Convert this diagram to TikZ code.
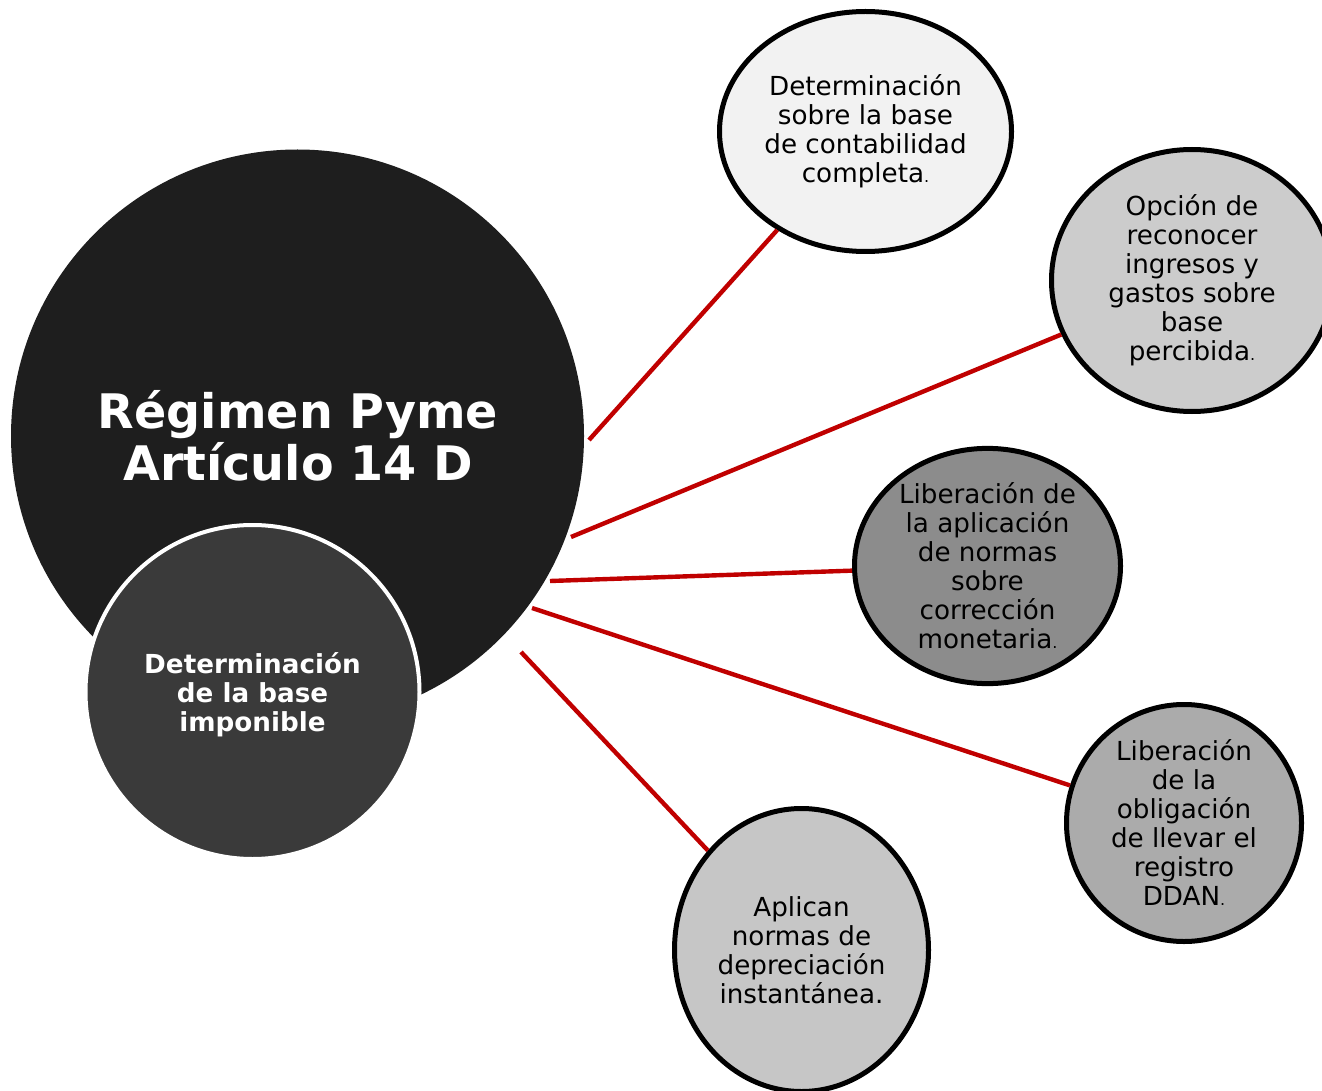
\documentclass[tikz,border=0pt]{standalone}
\usepackage{fontspec}
\setmainfont{DejaVu Sans}
\usetikzlibrary{shapes.geometric}
\definecolor{bigfill}{HTML}{1E1E1E}
\definecolor{smallfill}{HTML}{3A3A3A}
\definecolor{linkred}{HTML}{C00000}
\definecolor{fillA}{HTML}{F2F2F2}
\definecolor{fillB}{HTML}{CCCCCC}
\definecolor{fillC}{HTML}{8C8C8C}
\definecolor{fillD}{HTML}{ABABAB}
\definecolor{fillE}{HTML}{C6C6C6}
\newcommand{\smalldot}{{\fontsize{8}{8}\selectfont .}}
\begin{document}
\begin{tikzpicture}[x=0.5pt,y=-0.5pt,
  bubble/.style={ellipse, draw=black, line width=2.5pt, inner sep=0pt, align=center,
     text=black, font=\fontsize{13.1}{14.5}\selectfont},
  link/.style={draw=linkred, line width=2.2pt}]
\useasboundingbox (0,0) rectangle (1322,1091);
\clip (0,0) rectangle (1322,1091);
\fill[white] (0,0) rectangle (1322,1091);
% big circle
\node[circle, fill=bigfill, minimum size=286.5pt, inner sep=0pt] (big) at (297.5,436) {};
\node[text=white, font=\bfseries\fontsize{23.8}{26}\selectfont, align=center] (title) at (298,436) {Régimen Pyme\\Artículo 14 D};
% small circle
\node[circle, fill=smallfill, draw=white, line width=2pt, minimum size=167pt, inner sep=0pt] (base) at (252.5,692) {};
\node[text=white, font=\bfseries\fontsize{13.1}{14.5}\selectfont, align=center] (basetxt) at (252.5,695) {Determinación\\de la base\\imponible};
% bubbles
\node[bubble, fill=fillA, minimum width=146pt, minimum height=120pt] (e1) at (865.5,131.5)
  {Determinación\\sobre la base\\de contabilidad\\completa\smalldot};
\node[bubble, fill=fillB, minimum width=140.5pt, minimum height=131pt] (e2) at (1192,280.5)
  {Opción de\\reconocer\\ingresos y\\gastos sobre\\base\\percibida\smalldot};
\node[bubble, fill=fillC, minimum width=133pt, minimum height=117.5pt] (e3) at (987.5,566)
  {Liberación de\\la aplicación\\de normas\\sobre\\corrección\\monetaria\smalldot};
\node[bubble, fill=fillD, minimum width=117.5pt, minimum height=118.5pt] (e4) at (1184,823)
  {Liberación\\de la\\obligación\\de llevar el\\registro\\DDAN\smalldot};
\node[bubble, fill=fillE, minimum width=127pt, minimum height=141.5pt] (e5) at (801.5,950)
  {Aplican\\normas de\\depreciación\\instantánea.};
% connector starts
\coordinate (s1) at (589,440);
\coordinate (s2) at (571,537);
\coordinate (s3) at (550,581);
\coordinate (s4) at (532,608);
\coordinate (s5) at (521,652);
\draw[link] (s1) -- (e1);
\draw[link] (s2) -- (e2);
\draw[link] (s3) -- (e3);
\draw[link] (s4) -- (e4);
\draw[link] (s5) -- (e5);
\end{tikzpicture}
\end{document}
